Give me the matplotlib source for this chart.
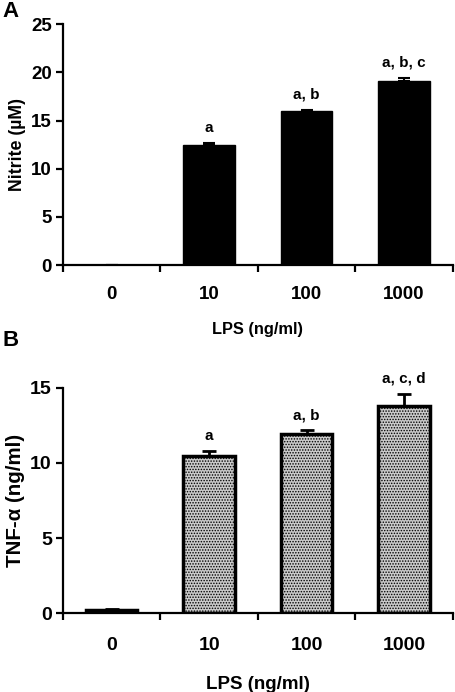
import numpy as np
import matplotlib.pyplot as plt

plt.rcParams['font.family'] = ['Liberation Sans', 'DejaVu Sans']
plt.rcParams['font.weight'] = 'bold'

categories = ['0', '10', '100', '1000']

nitrite = [0.0, 12.45, 16.0, 19.1]
nitrite_err = [0.0, 0.2, 0.12, 0.3]
nitrite_sig = ['', 'a', 'a, b', 'a, b, c']

tnf = [0.25, 10.48, 11.88, 13.8]
tnf_err = [0.03, 0.27, 0.27, 0.76]
tnf_sig = ['', 'a', 'a, b', 'a, c, d']

fig = plt.figure(figsize=(4.56, 6.92), dpi=100)
axA = fig.add_axes([0.138, 0.617, 0.855, 0.348])
axB = fig.add_axes([0.138, 0.1137, 0.855, 0.3263])

x = np.arange(len(categories))


def style_axis(ax, ymax, step, fs_tick, fs_label, ylabel, xpad):
    ax.set_xlim(-0.5, 3.5)
    ax.set_ylim(0, ymax)
    ax.spines['top'].set_visible(False)
    ax.spines['right'].set_visible(False)
    ax.spines['left'].set_linewidth(1.6)
    ax.spines['bottom'].set_linewidth(1.6)
    ax.set_yticks(np.arange(0, ymax + 1, step))
    ax.tick_params(axis='y', direction='out', length=5, width=1.6, labelsize=fs_tick, pad=3)
    ax.set_xticks(np.arange(-0.5, 4.0, 1.0))
    ax.set_xticklabels([])
    ax.tick_params(axis='x', which='major', direction='out', length=5, width=1.6)
    ax.set_xticks(x, minor=True)
    ax.set_xticklabels(categories, minor=True)
    ax.tick_params(axis='x', which='minor', length=0, labelsize=fs_tick, pad=xpad)
    ax.set_ylabel(ylabel, fontsize=fs_label, fontweight='bold', labelpad=4)
    for lab in ax.get_yticklabels() + ax.get_xticklabels(minor=True):
        lab.set_fontweight('bold')


# Panel A
axA.bar(x, nitrite, width=0.53, color='black', edgecolor='black', zorder=2)
axA.errorbar(x, nitrite, yerr=[np.zeros(4), nitrite_err], fmt='none', ecolor='black',
             elinewidth=1.5, capsize=4, capthick=1.5, zorder=3)
for xi, v, e, s in zip(x, nitrite, nitrite_err, nitrite_sig):
    if s:
        axA.annotate(s, (xi, v + e), xytext=(0, 6), textcoords='offset points',
                     ha='center', va='bottom', fontsize=11, fontweight='bold')
style_axis(axA, 25, 5, 13.5, 12.8, 'Nitrite (µM)', 15)
axA.set_xlabel('LPS (ng/ml)', fontsize=11.8, fontweight='bold', labelpad=14)
fig.text(0.005, 0.998, 'A', fontsize=16, fontweight='bold', va='top', ha='left')

# Panel B - stippled grey bars
plt.rcParams['hatch.color'] = '#606060'
plt.rcParams['hatch.linewidth'] = 0.7
axB.bar(x, tnf, width=0.53, color='#cacaca', edgecolor='black', linewidth=2.5,
        hatch='......', zorder=2)
axB.errorbar(x, tnf, yerr=[np.zeros(4), tnf_err], fmt='none', ecolor='black',
             elinewidth=2, capsize=5, capthick=2, zorder=3)
for xi, v, e, s in zip(x, tnf, tnf_err, tnf_sig):
    if s:
        axB.annotate(s, (xi, v + e), xytext=(0, 6), textcoords='offset points',
                     ha='center', va='bottom', fontsize=11, fontweight='bold')
style_axis(axB, 15, 5, 14, 14.8, 'TNF-α (ng/ml)', 17)
axB.set_xlabel('LPS (ng/ml)', fontsize=13.5, fontweight='bold', labelpad=16)
fig.text(0.005, 0.523, 'B', fontsize=16, fontweight='bold', va='top', ha='left')

fig.savefig('out.png', dpi=100)
